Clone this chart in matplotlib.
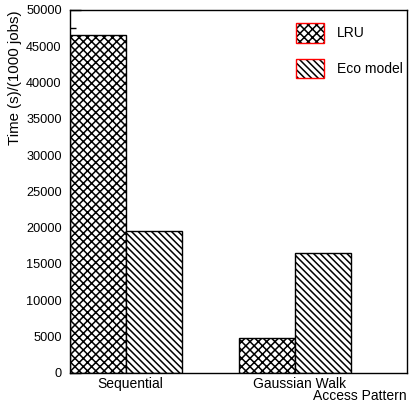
import matplotlib
matplotlib.use("Agg")
import matplotlib.pyplot as plt
from matplotlib.patches import Patch
from matplotlib.legend_handler import HandlerTuple
import numpy as np

categories = ["Sequential", "Gaussian Walk"]
series_names = ["LRU", "Eco model"]
lru_values = [46600, 4800]
eco_values = [19600, 16500]
yticks = list(range(0, 50001, 5000))

plt.rcParams['font.family'] = ['Liberation Sans', 'DejaVu Sans']
plt.rcParams['hatch.linewidth'] = 1.1

HATCH_LRU = 'xxxx'
HATCH_ECO = '\\\\\\\\\\'

fig = plt.figure(figsize=(4.12, 4.05), dpi=100)
ax = fig.add_axes([70/412, (405-372.7)/405, 337/412, 362.7/405])

x = np.arange(len(categories))
w = 1/3
ax.bar(x + w/2, lru_values, width=w, facecolor='white', edgecolor='black',
       hatch=HATCH_LRU, linewidth=1.0)
ax.bar(x + 1.5*w, eco_values, width=w, facecolor='white', edgecolor='black',
       hatch=HATCH_ECO, linewidth=1.0)

ax.set_xlim(0, 2)
ax.set_ylim(0, 50000)
ax.set_axisbelow(True)
ax.set_yticks(yticks)
ax.set_yticklabels([str(v) for v in yticks], fontsize=9.2)
ax.set_yticks(np.arange(2500, 50000, 5000), minor=True)
ax.tick_params(axis='y', which='major', direction='in', length=8, width=1, pad=6)
ax.tick_params(axis='y', which='minor', direction='in', length=4, width=1)
ax.set_xticks(x + 0.36)
ax.set_xticklabels(categories, fontsize=10)
ax.tick_params(axis='x', length=0, pad=3)
for s in ax.spines.values():
    s.set_linewidth(1.0)

ax.set_ylabel("Time (s)/(1000 jobs)", fontsize=10.8, loc='top')
ax.yaxis.set_label_coords(-0.142, 1.0)
ax.set_xlabel("Access Pattern", fontsize=10, loc='right')
ax.xaxis.set_label_coords(1.0, -0.045)

h1 = (Patch(facecolor='white', edgecolor='black', hatch=HATCH_LRU, linewidth=0),
      Patch(facecolor='none', edgecolor='red', linewidth=1.0))
h2 = (Patch(facecolor='white', edgecolor='black', hatch=HATCH_ECO, linewidth=0),
      Patch(facecolor='none', edgecolor='red', linewidth=1.0))
ax.legend([h1, h2], series_names, handler_map={tuple: HandlerTuple(ndivide=1, pad=0)},
          loc='upper left', bbox_to_anchor=(296/412, (405-23)/405),
          bbox_transform=fig.transFigure, frameon=False, borderpad=0,
          borderaxespad=0, handlelength=2.0, handleheight=1.8,
          handletextpad=0.95, labelspacing=1.15, fontsize=10)

fig.savefig("out.png", dpi=100)
